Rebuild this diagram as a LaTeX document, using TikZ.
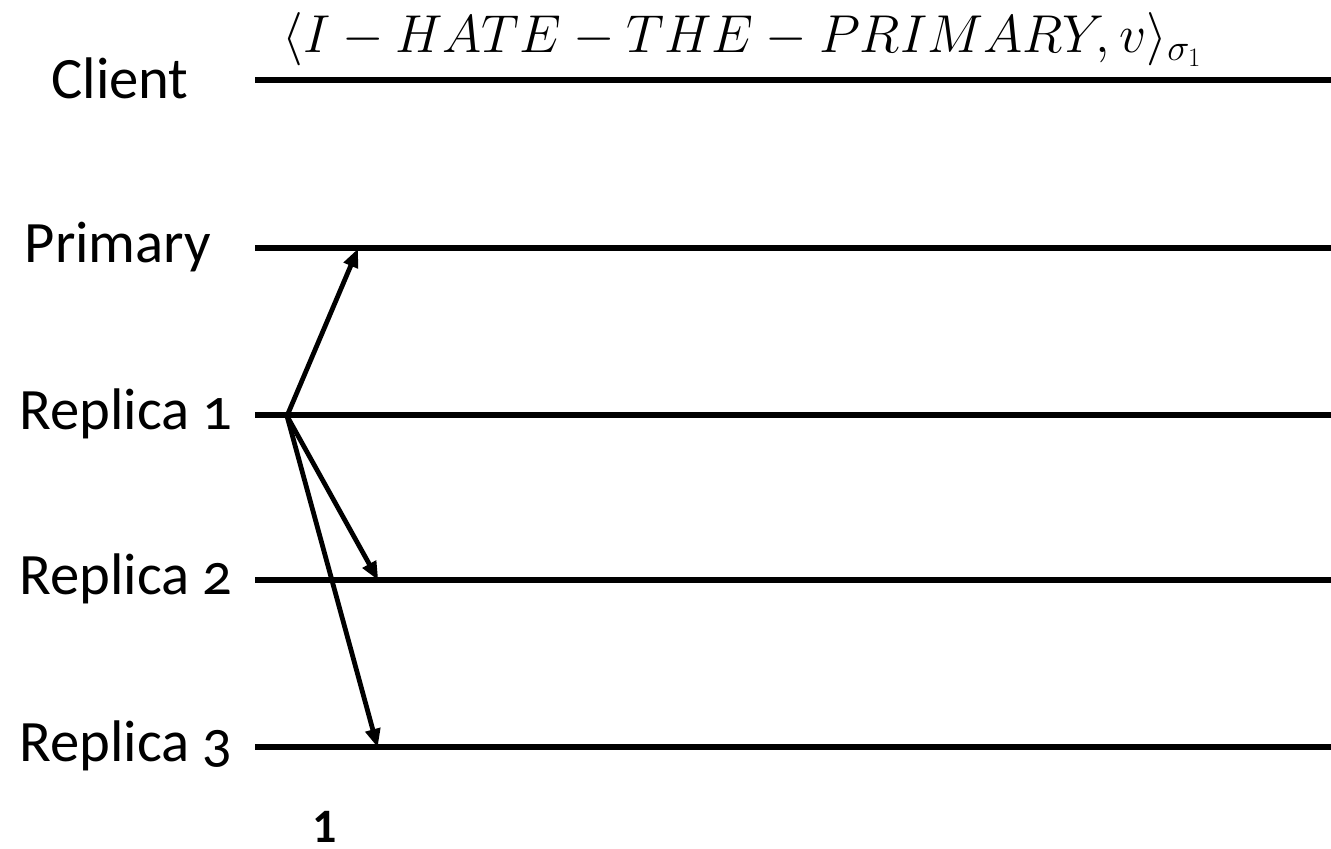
\RequirePackage{fix-cm}
\documentclass[tikz,border=0pt]{standalone}
\usepackage{fontspec}
\setmainfont{Carlito}[Numbers=OldStyle]
\usepackage{tikz}
\usetikzlibrary{arrows.meta}

\begin{document}
\begin{tikzpicture}[
  x=0.75pt, y=-0.75pt,
  lbl/.style={font=\fontsize{44}{50}\selectfont, anchor=center},
  timeline/.style={line width=3.8pt, color=black},
  msg/.style={-{Triangle[length=14pt, width=11pt]}, line width=3.6pt, shorten >=-2pt},
]
  \useasboundingbox (0,0) rectangle (1331,849);

  \node[lbl] (client)  at (120,78)  {Client};
  \node[lbl] (primary) at (118,247) {Primary};
  \node[lbl] (rep1)    at (126,414) {Replica 1};
  \node[lbl] (rep2)    at (126,579) {Replica 2};
  \node[lbl] (rep3)    at (126,746) {Replica 3};

  % time lines
  \coordinate (c0) at (255,80);  \coordinate (c1) at (1331,80);
  \coordinate (p0) at (255,248); \coordinate (p1) at (1331,248);
  \coordinate (a0) at (255,415); \coordinate (a1) at (1331,415);
  \coordinate (b0) at (255,580); \coordinate (b1) at (1331,580);
  \coordinate (d0) at (255,747); \coordinate (d1) at (1331,747);
  \foreach \s/\e in {c0/c1, p0/p1, a0/a1, b0/b1, d0/d1}
    \draw[timeline] (\s) -- (\e);

  \node[anchor=base west, font=\fontsize{40}{46}\selectfont, inner sep=0pt] (req)
    at (282,53) {$\langle I-HATE-THE-PRIMARY,v\rangle_{\sigma_1}$};

  % messages from replica 1
  \coordinate (src) at (287,416);
  \coordinate (toP) at (357,251);
  \coordinate (toB) at (377,578);
  \coordinate (toD) at (377,745);
  \draw[msg] (src) -- (toP);
  \draw[msg] (src) -- (toB);
  \draw[msg] (src) -- (toD);

  \node[inner sep=0pt, anchor=base, font=\fontsize{36}{40}\selectfont\bfseries\addfontfeatures{Numbers=Lining}] (step1)
    at (325,842) {1};
\end{tikzpicture}
\end{document}
